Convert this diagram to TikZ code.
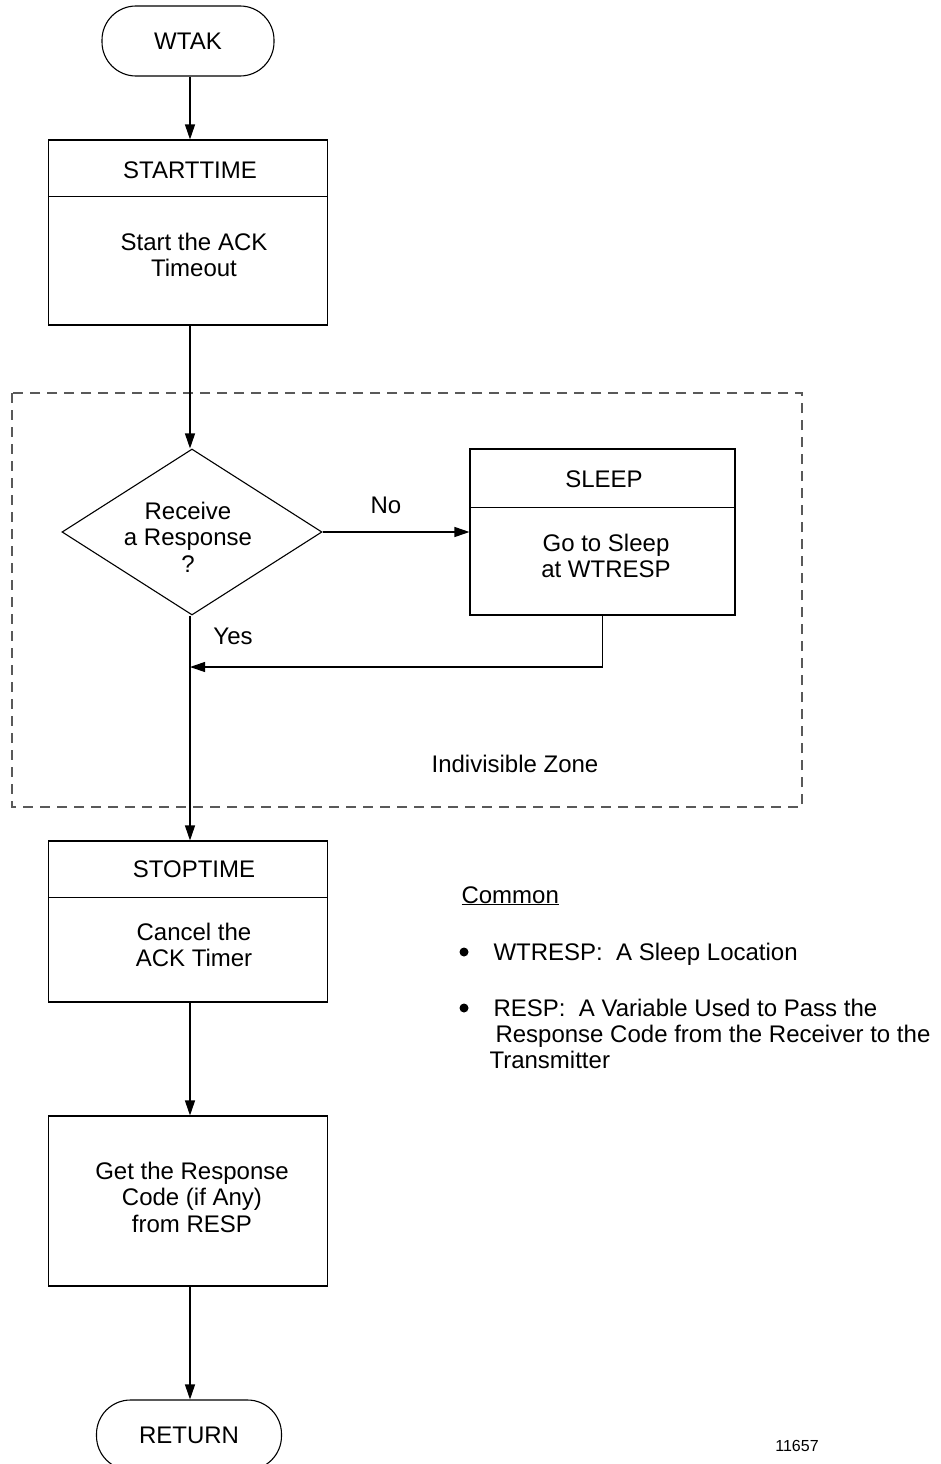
\documentclass[tikz,border=0pt]{standalone}
\usepackage{fontspec}
\setmainfont{Liberation Sans}
\usetikzlibrary{arrows.meta,shapes.geometric}

\begin{document}
\begin{tikzpicture}[x=1pt,y=-1pt,
    every node/.style={font=\fontsize{24}{26.5}\selectfont, align=center},
    box/.style={draw, line width=1.1pt, inner sep=0pt},
    term/.style={draw, line width=1.1pt, rounded corners=34pt, inner sep=0pt},
    flow/.style={line width=1.1pt, -{Triangle[length=15pt,width=10pt]}},
    divider/.style={line width=1.1pt},
    dot/.style={circle, fill, inner sep=0pt, minimum size=9pt}]
    \useasboundingbox (0,0) rectangle (941,1464);

    % indivisible zone
    \draw[gray!70!black, line width=1.2pt, dash pattern=on 10pt off 7pt] (12,393) rectangle (802,807);
    \node (zone) at (515,764) {Indivisible Zone};

    % main column
    \node[term, minimum width=172pt, minimum height=70pt] (wtak) at (188,41) {WTAK};
    \node[box, minimum width=279pt, minimum height=185pt] (start) at (188,232.5) {};
    \draw[divider] ([yshift=-57pt]start.north west) -- ([yshift=-57pt]start.north east);
    \node (starthead) at (190,170) {STARTTIME};
    \node (startbody) at (194,255) {Start the ACK\\Timeout};

    \node[diamond, draw, line width=1.1pt, inner sep=0pt, minimum width=260pt, minimum height=166pt] (dec) at (192,532) {};
    \node (dectext) at (188,537) {Receive\\a Response\\?};

    \node[box, minimum width=265pt, minimum height=166pt] (sleep) at (602.5,532) {};
    \draw[divider] ([yshift=-59pt]sleep.north west) -- ([yshift=-59pt]sleep.north east);
    \node (sleephead) at (604,479) {SLEEP};
    \node (sleepbody) at (606,556) {Go to Sleep\\at WTRESP};

    \node[box, minimum width=279pt, minimum height=161pt] (stop) at (188,921.5) {};
    \draw[divider] ([yshift=-57pt]stop.north west) -- ([yshift=-57pt]stop.north east);
    \node (stophead) at (194,869) {STOPTIME};
    \node (stopbody) at (194,945) {Cancel the\\ACK Timer};

    \node[box, minimum width=279pt, minimum height=170pt] (get) at (188,1201) {};
    \node (getbody) at (192,1197) {Get the Response\\Code (if Any)\\from RESP};

    \node[term, minimum width=185pt, minimum height=70pt] (ret) at (189,1435) {RETURN};

    % connectors
    \coordinate (join) at (190,667);
    \draw[flow] (wtak.south -| 190,0) -- (start.north -| 190,0);
    \draw[flow] (start.south -| 190,0) -- (dec.north -| 190,0);
    \draw[flow] (dec.east) -- (sleep.west);
    \draw[flow] (sleep.south) |- (join);
    \draw[flow] (dec.south -| 190,0) -- (stop.north -| 190,0);
    \draw[flow] (stop.south -| 190,0) -- (get.north -| 190,0);
    \draw[flow] (get.south -| 190,0) -- (ret.north -| 190,0);
    \node (no) at (386,505) {No};
    \node (yes) at (233,636) {Yes};

    % notes
    \node[anchor=base west] (common) at (458,903) {\underline{Common}};
    \node[dot] (bulA) at (464,952) {};
    \node[anchor=base west] (noteA) at (490,960) {WTRESP:\ \ A Sleep Location};
    \node[dot] (bulB) at (464,1008) {};
    \node[anchor=base west] (noteB1) at (490,1016) {RESP:\ \ A Variable Used to Pass the};
    \node[anchor=base west] (noteB2) at (492,1042) {Response Code from the Receiver to the};
    \node[anchor=base west] (noteB3) at (486,1068) {Transmitter};

    \node[font=\fontsize{16}{18}\selectfont] (fig) at (797,1446) {11657};
\end{tikzpicture}
\end{document}
